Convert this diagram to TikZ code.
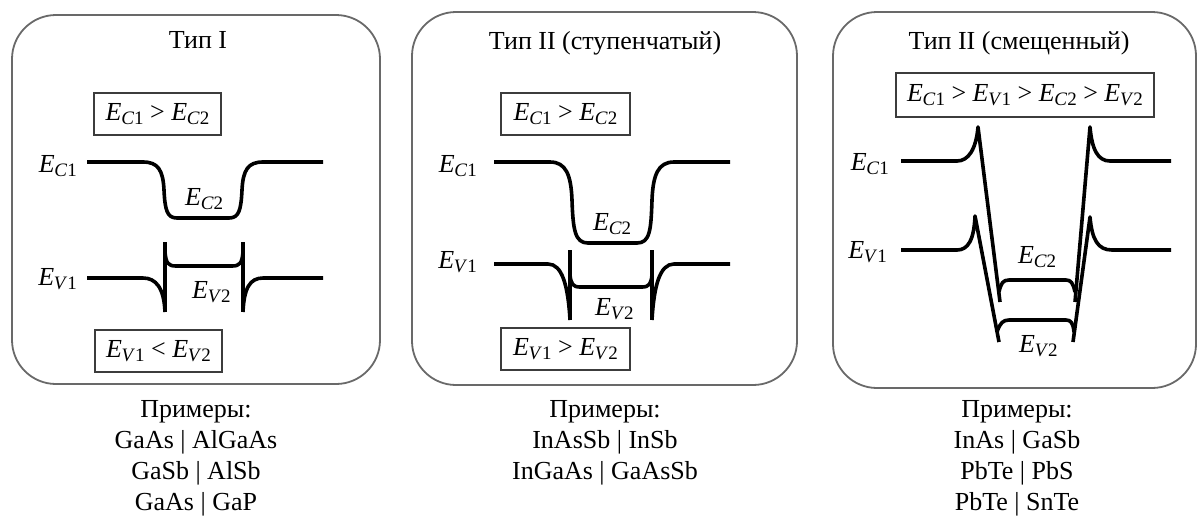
\documentclass[tikz,border=0pt]{standalone}
\usepackage{fontspec}
\setmainfont{Liberation Serif}
\definecolor{framegray}{RGB}{105,105,105}
\definecolor{boxgray}{RGB}{60,60,60}
% energy level symbol: italic E with a lowered subscript (italic letter, upright digit)
\newcommand{\En}[2]{\textit{E}\kern-0.3pt\raisebox{-0.16em}{\fontsize{19}{19}\selectfont\textit{#1}#2}}
\tikzset{
  panel/.style={draw=framegray, line width=1.8pt, rounded corners=44pt},
  band/.style={line width=3.6pt, line join=round},
  relbox/.style={draw=boxgray, line width=2pt, inner sep=0pt},
  lbl/.style={inner sep=0pt},
  every node/.style={font=\fontsize{26}{31}\selectfont},
}
\begin{document}
\begin{tikzpicture}[x=1pt,y=-1pt]
\useasboundingbox (0,0) rectangle (1198,515);

% ---------- panels ----------
\draw[panel] (12,15) rectangle (380,384);
\draw[panel] (412,12) rectangle (797,385);
\draw[panel] (833,12) rectangle (1196,388);

% ---------- Type I ----------
\node[lbl, anchor=base] (t1) at (198,48) {Тип I};
\node[relbox, minimum width=127pt, minimum height=42pt] (r1a) at (157.5,114) {\En{C}{1} > \En{C}{2}};
\node[relbox, minimum width=127pt, minimum height=42pt] (r1b) at (158.5,351) {\En{V}{1} < \En{V}{2}};
\node[lbl, anchor=base east] (c1a) at (77,172) {\En{C}{1}};
\node[lbl, anchor=base east] (v1a) at (77,285) {\En{V}{1}};
\node[lbl, anchor=base west] (c2a) at (185,205) {\En{C}{2}};
\node[lbl, anchor=base west] (v2a) at (192,298) {\En{V}{2}};
% conduction band: smooth well
\draw[band] (87,162) -- (143,162) .. controls (158,162) and (163,170) .. (164,190)
  .. controls (165,210) and (167,218) .. (177,218) -- (229,218)
  .. controls (239,218) and (241,210) .. (242,190)
  .. controls (243,170) and (248,162) .. (263,162) -- (323,162);
% valence band: spikes with a raised plateau
\draw[band] (87,278) -- (143,278) .. controls (156,278) and (164,288) .. (165,312);
\draw[band] (165,242) -- (165,312);
\draw[band] (165,252) .. controls (166,263) and (168,266) .. (176,266) -- (232,266)
  .. controls (240,266) and (242,263) .. (243,252);
\draw[band] (243,242) -- (243,312);
\draw[band] (243,312) .. controls (244,288) and (250,278) .. (263,278) -- (323,278);

% ---------- Type II staggered ----------
\node[lbl, anchor=base] (t2) at (605,49) {Тип II (ступенчатый)};
\node[relbox, minimum width=129pt, minimum height=42pt] (r2a) at (565.5,114) {\En{C}{1} > \En{C}{2}};
\node[relbox, minimum width=129pt, minimum height=42pt] (r2b) at (565.5,349) {\En{V}{1} > \En{V}{2}};
\node[lbl, anchor=base east] (c1b) at (477,172) {\En{C}{1}};
\node[lbl, anchor=base east] (v1b) at (477,268) {\En{V}{1}};
\node[lbl, anchor=base west] (c2b) at (593,230) {\En{C}{2}};
\node[lbl, anchor=base west] (v2b) at (595,315) {\En{V}{2}};
\draw[band] (494,162) -- (550,162) .. controls (566,162) and (571,175) .. (572,200)
  .. controls (573,230) and (575,243) .. (588,243) -- (637,243)
  .. controls (650,243) and (651,230) .. (652,200)
  .. controls (653,175) and (658,162) .. (674,162) -- (730,162);
\draw[band] (494,264) -- (548,264) .. controls (562,264) and (568,285) .. (570,320);
\draw[band] (570,250) -- (570,320);
\draw[band] (570,275) .. controls (571,284) and (573,287) .. (580,287) -- (642,287)
  .. controls (649,287) and (651,284) .. (652,275);
\draw[band] (652,250) -- (652,320);
\draw[band] (652,320) .. controls (654,285) and (660,264) .. (674,264) -- (730,264);

% ---------- Type II broken gap ----------
\node[lbl, anchor=base] (t3) at (1019,49) {Тип II (смещенный)};
\node[relbox, minimum width=258pt, minimum height=44pt] (r3) at (1025,95) {\En{C}{1} > \En{V}{1} > \En{C}{2} > \En{V}{2}};
\node[lbl, anchor=base east] (c1c) at (889,170) {\En{C}{1}};
\node[lbl, anchor=base east] (v1c) at (887,258) {\En{V}{1}};
\node[lbl, anchor=base west] (c2c) at (1018,263) {\En{C}{2}};
\node[lbl, anchor=base west] (v2c) at (1019,352) {\En{V}{2}};
% conduction band
\draw[band] (901,161) -- (957,161) .. controls (968,161) and (976,150) .. (978,127) -- (1000,302);
\draw[band] (999,292) .. controls (1001,283) and (1003,280) .. (1009,280) -- (1066,280)
  .. controls (1071,280) and (1073,283) .. (1075,292);
\draw[band] (1075,302) -- (1090,127) .. controls (1092,150) and (1098,161) .. (1110,161) -- (1171,161);
% valence band
\draw[band] (901,250) -- (957,250) .. controls (968,250) and (974,240) .. (975,216) -- (999,342);
\draw[band] (997,332) .. controls (1000,323) and (1003,320) .. (1009,320) -- (1066,320)
  .. controls (1071,320) and (1073,323) .. (1074,332);
\draw[band] (1073,342) -- (1090,217) .. controls (1092,240) and (1098,250) .. (1112,250) -- (1171,250);

% ---------- examples ----------
\node[lbl, anchor=north, align=center] (ex1) at (196,400)
  {Примеры:\\GaAs | AlGaAs\\GaSb | AlSb\\GaAs | GaP};
\node[lbl, anchor=north, align=center] (ex2) at (605,400)
  {Примеры:\\InAsSb | InSb\\InGaAs | GaAsSb};
\node[lbl, anchor=north, align=center] (ex3) at (1017,400)
  {Примеры:\\InAs | GaSb\\PbTe | PbS\\PbTe | SnTe};
\end{tikzpicture}
\end{document}
